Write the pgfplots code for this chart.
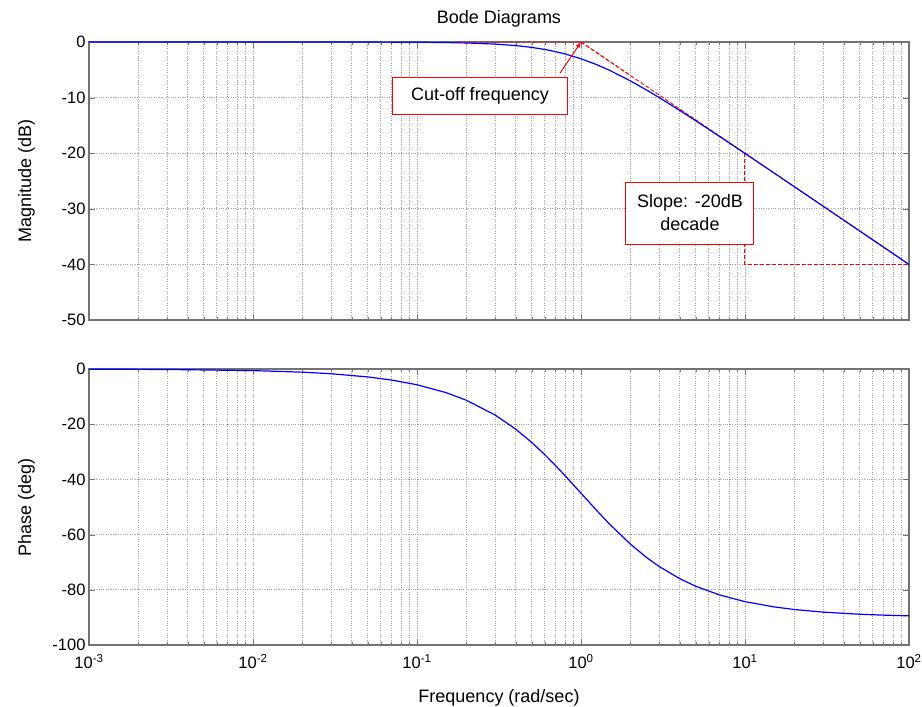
\documentclass[border=0pt]{standalone}
\usepackage{pgfplots}
\pgfplotsset{compat=1.18}
\usepackage{fontspec}
\setmainfont{Liberation Sans}

\pgfplotsset{
  every axis/.append style={
    width=820pt, scale only axis,
    axis line style={draw=gray!90!black, line width=1.2pt},
    tick style={gray!90!black},
    tick align=inside, major tick length=6pt, minor tick length=3pt,
    grid=both,
    major grid style={dotted, gray!75, line width=0.7pt},
    minor grid style={dotted, gray!75, line width=0.7pt},
    tick label style={font=\fontsize{16.5}{18}\selectfont},
    xticklabel style={yshift=-6pt},
    clip=false,
  },
}

\begin{document}
\begin{tikzpicture}
\useasboundingbox (0pt,0pt) rectangle (922pt,-707pt);

% magnitude
\begin{axis}[xmode=log, xmin=1e-3, xmax=1e2,
  xtick={1e-3,1e-2,1e-1,1e0,1e1,1e2},
  at={(89pt,-42pt)}, anchor=north west, height=278pt,
  ymin=-50, ymax=0, ytick={-50,-40,-30,-20,-10,0},
  yticklabels={-50,-40,-30,-20,-10,0},
  xticklabels={}]
% asymptote (slope part under the curve)
\addplot[red, dash pattern=on 4pt off 2pt, line width=0.9pt] coordinates {(1,0) (100,-40)};
\addplot[red, dash pattern=on 4pt off 2pt, line width=1pt] coordinates {(10,-20) (10,-40) (100,-40)};
\addplot[blue, line width=1.2pt] coordinates {
(0.001,0) (0.01,-0.0004) (0.05,-0.0108) (0.1,-0.0432) (0.15,-0.0967) (0.2,-0.1703)
(0.3,-0.3743) (0.4,-0.6446) (0.5,-0.9691) (0.6,-1.3354) (0.7,-1.732) (0.8,-2.148)
(1,-3.0103) (1.25,-4.087) (1.5,-5.119) (2,-6.990) (2.5,-8.603) (3,-10) (4,-12.304)
(5,-14.150) (7,-16.99) (10,-20.043) (15,-23.541) (20,-26.031) (30,-29.547)
(50,-33.981) (70,-36.903) (100,-40.0)};
\addplot[red, dash pattern=on 4pt off 2pt, line width=0.9pt] coordinates {(0.17,0) (1,0) (2,-6.02)};
\draw[red, line width=1pt, -latex] (axis cs:0.745,-5.6) -- (axis cs:1,0);
\node[draw=red, fill=white, line width=1pt, font=\fontsize{18}{21}\selectfont,
  minimum width=175pt, minimum height=37pt, inner sep=2pt]
  at (axis cs:0.242,-9.7) {Cut-off frequency};
\node[draw=red, fill=white, line width=1pt, font=\fontsize{18}{23}\selectfont,
  minimum width=128pt, minimum height=62pt, align=center, inner sep=2pt]
  at (axis cs:4.62,-30.76) {Slope: -20dB\\decade};
\end{axis}

% phase
\begin{axis}[xmode=log, xmin=1e-3, xmax=1e2,
  xtick={1e-3,1e-2,1e-1,1e0,1e1,1e2},
  at={(89pt,-369pt)}, anchor=north west, height=276pt,
  ymin=-100, ymax=0, ytick={-100,-80,-60,-40,-20,0},
  yticklabels={-100,-80,-60,-40,-20,0},
  xticklabels={10\textsuperscript{-3},10\textsuperscript{-2},10\textsuperscript{-1},10\textsuperscript{0},10\textsuperscript{1},10\textsuperscript{2}}]
\addplot[blue, line width=1.2pt] coordinates {
(0.001,-0.057) (0.003,-0.172) (0.01,-0.573) (0.02,-1.146) (0.03,-1.718) (0.05,-2.862)
(0.07,-4.004) (0.1,-5.711) (0.15,-8.531) (0.2,-11.310) (0.3,-16.699) (0.4,-21.801)
(0.5,-26.565) (0.6,-30.964) (0.7,-34.992) (0.8,-38.660) (1,-45) (1.25,-51.340)
(1.5,-56.310) (2,-63.435) (2.5,-68.199) (3,-71.565) (4,-75.964) (5,-78.690)
(7,-81.870) (10,-84.289) (15,-86.186) (20,-87.138) (30,-88.091) (50,-88.854)
(70,-89.182) (100,-89.427)};
\end{axis}

% titles and labels
\node[anchor=base, font=\fontsize{18}{21}\selectfont] at (499pt,-23pt) {Bode Diagrams};
\node[anchor=base, font=\fontsize{18}{21}\selectfont] at (499pt,-702pt) {Frequency (rad/sec)};
\node[anchor=base, rotate=90, font=\fontsize{18}{21}\selectfont] at (31pt,-181pt) {Magnitude (dB)};
\node[anchor=base, rotate=90, font=\fontsize{18}{21}\selectfont] at (31pt,-507pt) {Phase (deg)};
\end{tikzpicture}
\end{document}
